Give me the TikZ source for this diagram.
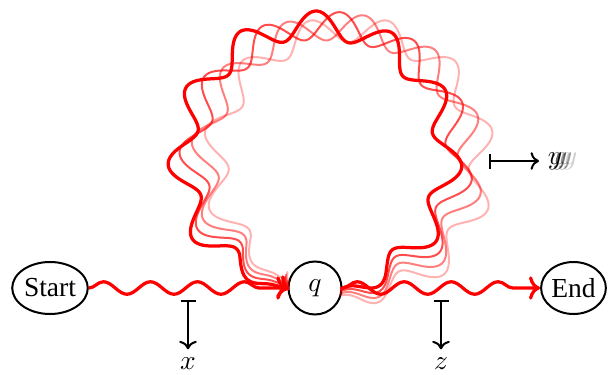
\documentclass[tikz,border=0pt]{standalone}
\usepackage{fontspec}
\setmainfont{Liberation Serif}
\usetikzlibrary{decorations.pathmorphing,shapes.geometric,arrows.meta}
\begin{document}
\begin{tikzpicture}[x=0.4pt,y=0.4pt,
  every node/.style={font=\fontsize{11}{13}\selectfont},
  state/.style={draw,thick,ellipse,minimum height=20.8pt,inner sep=0.3pt},
  qstate/.style={draw,thick,circle,minimum size=21.2pt,inner sep=0pt},
  wavy/.style={red,line width=1.3pt,decorate,decoration={snake,amplitude=2.5pt,segment length=18.8pt,post length=3mm}},
  pointer/.style={thick,{Bar[width=6pt]}->},
  declare function={env(\t)=max(0,min(1,(\t+79)/20,(252-\t)/20));
                    rr(\t)=133.5+13.5*env(\t)*cos((\t+3.5)*11.6129);}
]
\useasboundingbox (0,0) rectangle (613,374);
\node[state] (start) at (50,86) {Start};
\node[qstate] (q) at (315,86) {$q$};
\node[state] (end) at (573.5,86) {End};
% loop and its fading copies
\foreach \k/\o/\w in {3/0.3/0.8pt,2/0.5/0.8pt,1/0.7/0.8pt,0/1/1.3pt}{
  \begin{scope}[rotate around={-5*\k:(q.center)}]
    \draw[red,opacity=\o,line width=\w,line join=round,->]
      plot[smooth,domain=-79:252,samples=332] ({315+rr(\x)*cos(\x)},{216+rr(\x)*sin(\x)})
      -- ({315+133.5*cos(259)},{216+133.5*sin(259)});
  \end{scope}
}
\draw[wavy,->] (start) -- (q);
\draw[wavy,->] (q) -- (end);
% labels
\node (x) at (188,10) {$x$};
\coordinate (xb) at (188,74);
\draw[pointer] (xb) -- (x);
\node (z) at (441,10) {$z$};
\coordinate (zb) at (441,74);
\draw[pointer] (zb) -- (z);
\node[opacity=0.2] (y4) at (570,213) {$y$};
\node[opacity=0.4] (y3) at (565,213) {$y$};
\node[opacity=0.6] (y2) at (560,213) {$y$};
\node (y) at (555,213) {$y$};
\coordinate (yb) at (489,213);
\draw[pointer] (yb) -- (y);
\end{tikzpicture}
\end{document}
